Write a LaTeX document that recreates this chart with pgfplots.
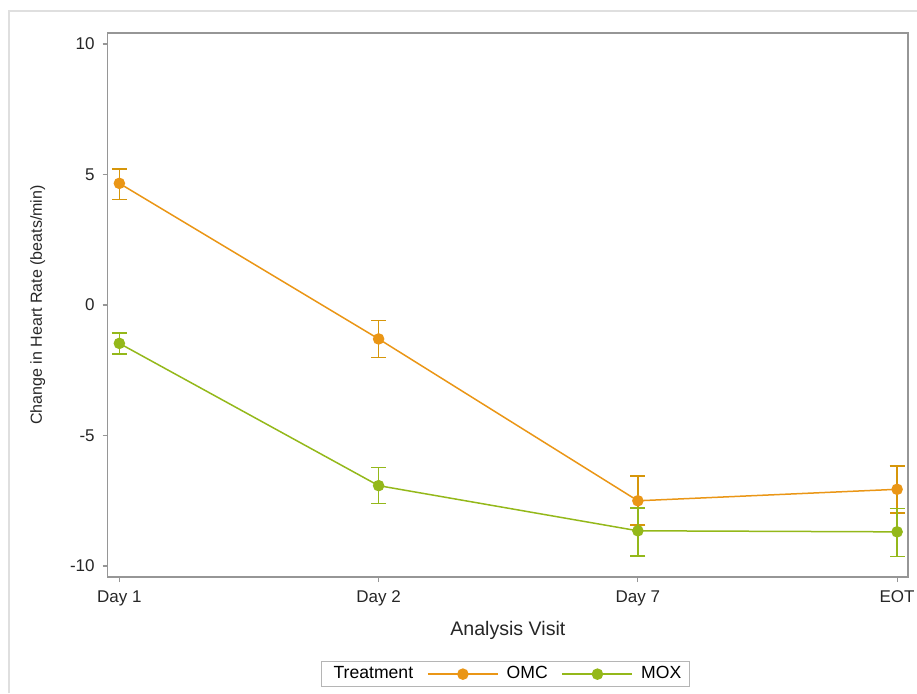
\documentclass[border=0pt]{standalone}
\usepackage{fontspec}
\setmainfont{Liberation Sans}
\usepackage{pgfplots}
\usepackage{pgfplotstable}
\pgfplotsset{compat=1.18}
\definecolor{omc}{RGB}{234,150,22}
\definecolor{omcerr}{RGB}{214,150,10}
\definecolor{mox}{RGB}{148,184,26}
\definecolor{axgray}{RGB}{150,150,150}
\pgfplotstableread{
x y ep em
0 4.66 0.55 0.61
1 -1.30 0.70 0.72
2 -7.50 0.95 0.93
3 -7.06 0.90 0.90
}\omctab
\pgfplotstableread{
x y ep em
0 -1.47 0.39 0.41
1 -6.92 0.70 0.68
2 -8.65 0.88 0.96
3 -8.69 0.90 0.95
}\moxtab
\begin{document}
\begin{tikzpicture}
\useasboundingbox (0,0) rectangle (458.5pt,346.5pt);
\draw[gray!25, line width=0.6pt] (4.5pt,0) -- (4.5pt,341pt) -- (458.5pt,341pt);
\begin{axis}[
  at={(53.85pt,58pt)}, anchor=south west,
  scale only axis, width=400.15pt, height=272pt,
  xmin=-0.045, xmax=3.042, ymin=-10.42, ymax=10.42,
  xtick={0,1,2,3}, xticklabels={Day 1,Day 2,Day 7,EOT},
  ytick={-10,-5,0,5,10}, yticklabels={-10,-5,0,5,10},
  xtick pos=bottom, ytick pos=left,
  axis line style={axgray, line width=0.6pt},
  tick align=outside, tick style={axgray, line width=0.6pt},
  major tick length=2.5pt,
  ticklabel style={font=\fontsize{8.5pt}{10pt}\selectfont, text=black!85},
  xticklabel style={yshift=-1pt},
  yticklabel style={xshift=-0.5pt},
  xlabel={Analysis Visit}, ylabel={Change in Heart Rate (beats/min)},
  xlabel style={font=\fontsize{9.8pt}{11pt}\selectfont, text=black!85, at={(axis description cs:0.5,-0.0974)}, anchor=center},
  ylabel style={font=\fontsize{8pt}{10pt}\selectfont, text=black!85, at={(axis description cs:-0.0874,0.5)}, anchor=center},
  legend columns=3,
  legend style={at={(axis description cs:0.497,-0.1544)}, anchor=north,
    draw=axgray!70, line width=0.5pt, font=\fontsize{8.8pt}{10pt}\selectfont,
    inner xsep=2pt, inner ysep=0.5pt,
    /tikz/every odd column/.append style={column sep=2pt},
    /tikz/every even column/.append style={column sep=5pt}},
  legend image code/.code={\draw[mark repeat=2,mark phase=2] plot coordinates {(0pt,0pt)(17.5pt,0pt)(35pt,0pt)};},
]
\addlegendimage{empty legend}
\addlegendentry{Treatment}
\addplot[omc, line width=0.75pt, mark=*, mark size=2.5pt, mark options={fill=omc, draw=omc},
  error bars/.cd, y dir=both, y explicit,
  error bar style={omcerr, line width=0.75pt},
  error mark options={rotate=90, mark size=3.75pt, omcerr, line width=0.75pt}]
  table[x=x, y=y, y error plus=ep, y error minus=em] {\omctab};
\addlegendentry{OMC}
\addplot[mox, line width=0.75pt, mark=*, mark size=2.5pt, mark options={fill=mox, draw=mox},
  error bars/.cd, y dir=both, y explicit,
  error bar style={mox, line width=0.75pt},
  error mark options={rotate=90, mark size=3.75pt, mox, line width=0.75pt}]
  table[x=x, y=y, y error plus=ep, y error minus=em] {\moxtab};
\addlegendentry{MOX}
\end{axis}
\end{tikzpicture}
\end{document}
